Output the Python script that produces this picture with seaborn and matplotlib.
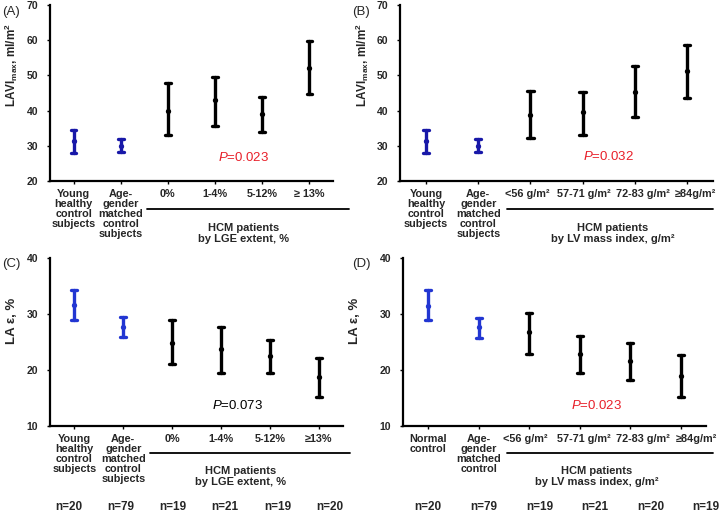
import numpy as np
import pandas as pd
import matplotlib
matplotlib.use('Agg')
import matplotlib.pyplot as plt
import seaborn as sns

sns.set_style('ticks')
plt.rcParams['font.family'] = ['Liberation Sans', 'DejaVu Sans']
plt.rcParams['mathtext.fontset'] = 'custom'
plt.rcParams['mathtext.rm'] = 'Liberation Sans:bold'
plt.rcParams['mathtext.it'] = 'Liberation Sans:italic'
plt.rcParams['mathtext.bf'] = 'Liberation Sans:bold'

# ---- data (mean, lower, upper) ----
cats_a = ['Young\nhealthy\ncontrol\nsubjects', 'Age-\ngender\nmatched\ncontrol\nsubjects',
          '0%', '1-4%', '5-12%', '≥ 13%']
mean_a = [31.3, 30.0, 40.0, 43.0, 39.0, 52.2]
low_a = [28.0, 28.3, 33.0, 35.5, 34.0, 44.8]
high_a = [34.5, 31.9, 47.8, 49.5, 44.0, 59.7]

cats_b = ['Young\nhealthy\ncontrol\nsubjects', 'Age-\ngender\nmatched\ncontrol\nsubjects',
          '<56 g/m²', '57-71 g/m²', '72-83 g/m²', '≥84g/m²']
mean_b = [31.3, 30.0, 38.7, 39.7, 45.3, 51.2]
low_b = [28.0, 28.3, 32.3, 33.2, 38.2, 43.7]
high_b = [34.5, 31.9, 45.5, 45.4, 52.6, 58.7]

cats_c = ['Young\nhealthy\ncontrol\nsubjects', 'Age-\ngender\nmatched\ncontrol\nsubjects',
          '0%', '1-4%', '5-12%', '≥13%']
mean_c = [31.6, 27.6, 24.8, 23.8, 22.5, 18.7]
low_c = [29.0, 25.9, 21.1, 19.4, 19.5, 15.1]
high_c = [34.3, 29.4, 28.9, 27.6, 25.4, 22.2]
n_c = ['n=20', 'n=79', 'n=19', 'n=21', 'n=19', 'n=20']

cats_d = ['Normal\ncontrol', 'Age-\ngender\nmatched\ncontrol',
          '<56 g/m²', '57-71 g/m²', '72-83 g/m²', '≥84g/m²']
mean_d = [31.5, 27.7, 26.7, 22.9, 21.6, 19.0]
low_d = [28.9, 25.8, 22.8, 19.5, 18.2, 15.2]
high_d = [34.2, 29.3, 30.2, 26.1, 24.9, 22.7]
n_d = ['n=20', 'n=79', 'n=19', 'n=21', 'n=20', 'n=19']

groups = ['control', 'control', 'hcm', 'hcm', 'hcm', 'hcm']

W, H = 721, 512
fig = plt.figure(figsize=(W / 100, H / 100), dpi=100)


def px_axes(left, right, top, bottom):
    return fig.add_axes([left / W, 1 - bottom / H, (right - left) / W, (bottom - top) / H])


def panel(ax, cats, mean, low, high, ylim, yticks, ylabel, ylab_size, ylab_x, ylab_y,
          blue, hcm_text, hcm_x, line_x, pval, p_xy, p_color, label_shift=None):
    rows = []
    for c, m, lo, hi in zip(cats, mean, low, high):
        for v in (lo, m, hi):
            rows.append({'cat': c, 'val': v})
    df = pd.DataFrame(rows)
    pal = {c: (blue if g == 'control' else 'black') for c, g in zip(cats, groups)}
    sns.pointplot(data=df, x='cat', y='val', hue='cat', order=cats, palette=pal,
                  estimator='median', errorbar=lambda v: (v.min(), v.max()),
                  linestyle='none', markers='o', markersize=1.8, capsize=0.12,
                  err_kws={'linewidth': 2.4}, legend=False, ax=ax)
    ax.set_xlim(-0.5, 5.5)
    ax.set_ylim(*ylim)
    ax.set_yticks(yticks)
    ax.set_yticklabels([str(t) for t in yticks], fontsize=7.5, fontweight='bold')
    ax.set_xticks(range(len(cats)))
    ax.set_xticklabels([])
    if label_shift is None:
        label_shift = [0] * len(cats)
    # category labels drawn as annotations so crowded ones can be nudged sideways
    for i, (c, dx) in enumerate(zip(cats, label_shift)):
        ax.annotate(c, xy=(i, 0), xycoords=ax.get_xaxis_transform(),
                    xytext=(dx, -5.5), textcoords='offset points',
                    ha='center', va='top', fontsize=7.8, fontweight='bold',
                    linespacing=1.0, annotation_clip=False)
    ax.set_xlabel('')
    ax.set_ylabel('')
    sns.despine(ax=ax)
    for s in ('left', 'bottom'):
        ax.spines[s].set_linewidth(1.6)
        ax.spines[s].set_color('black')
    ax.tick_params(axis='both', length=2.5, width=1, color='black', pad=3)
    ax.tick_params(axis='y', pad=6)
    ax.text(ylab_x, ylab_y, ylabel, transform=ax.transAxes, rotation=90,
            ha='center', va='center', fontsize=ylab_size, fontweight='bold')
    tr = ax.get_xaxis_transform()
    ax.plot(line_x, [-0.16, -0.16], color='black', lw=1.3, transform=tr, clip_on=False)
    ax.text(hcm_x, -0.30, hcm_text, transform=tr, ha='center', va='center',
            fontsize=8, fontweight='bold', linespacing=1.1)
    ax.text(p_xy[0], p_xy[1], '$\\it{P}$' + '=' + pval, ha='center', va='center',
            color=p_color, fontsize=9.5)


ax_a = px_axes(50, 333, 5, 181)
panel(ax_a, cats_a, mean_a, low_a, high_a, (20, 70), [20, 30, 40, 50, 60, 70],
      'LAVI$_{\\rm max}$, ml/m$^{\\rm 2}$', 8.5, -0.135, 0.66, '#1818a8',
      'HCM patients\nby LGE extent, %', 3.6, [1.55, 5.83],
      '0.023', (3.6, 26.8), '#e8202a')

ax_b = px_axes(400, 713, 5, 181)
panel(ax_b, cats_b, mean_b, low_b, high_b, (20, 70), [20, 30, 40, 50, 60, 70],
      'LAVI$_{\\rm max}$, ml/m$^{\\rm 2}$', 8.5, -0.12, 0.66, '#1818a8',
      'HCM patients\nby LV mass index, g/m²', 3.58, [1.55, 5.5],
      '0.032', (3.5, 27.0), '#e8202a', label_shift=[0, 0, -2, 1, 6, 6])

ax_c = px_axes(50, 343, 258, 426)
panel(ax_c, cats_c, mean_c, low_c, high_c, (10, 40), [10, 20, 30, 40],
      'LA ε, %', 9.5, -0.13, 0.625, '#2236d2',
      'HCM patients\nby LGE extent, %', 3.4, [1.55, 5.65],
      '0.073', (3.35, 13.6), 'black')

ax_d = px_axes(403, 706, 258, 426)
panel(ax_d, cats_d, mean_d, low_d, high_d, (10, 40), [10, 20, 30, 40],
      'LA ε, %', 9.5, -0.16, 0.625, '#2236d2',
      'HCM patients\nby LV mass index, g/m²', 3.34, [1.56, 5.63],
      '0.023', (3.33, 13.6), '#e8202a', label_shift=[0, 0, -3, 3, 9, 11])

# n= row under the bottom panels
for i, t in enumerate(n_c):
    ax_c.text(1.07 * i - 0.12, -0.48, t, transform=ax_c.get_xaxis_transform(),
              ha='center', va='center', fontsize=8.5, fontweight='bold')
for i, t in enumerate(n_d):
    ax_d.text(1.1 * i, -0.48, t, transform=ax_d.get_xaxis_transform(),
              ha='center', va='center', fontsize=8.5, fontweight='bold')

# panel letters
fig.text(2 / W, 1 - 12 / H, '(A)', fontsize=9.5, va='center')
fig.text(352 / W, 1 - 12 / H, '(B)', fontsize=9.5, va='center')
fig.text(2 / W, 1 - 264 / H, '(C)', fontsize=9.5, va='center')
fig.text(352 / W, 1 - 264 / H, '(D)', fontsize=9.5, va='center')

fig.savefig('out.png', dpi=100)
